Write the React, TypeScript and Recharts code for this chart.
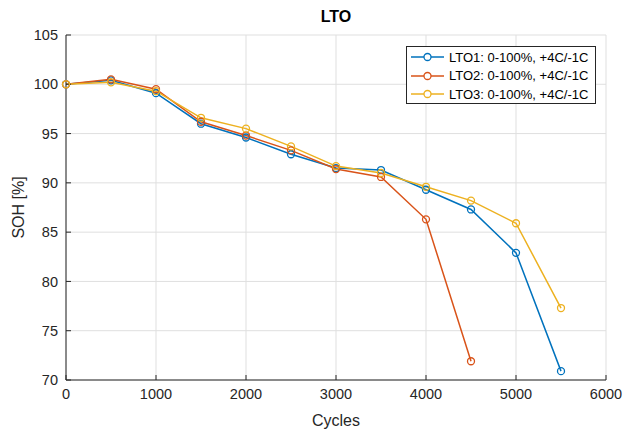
import { LineChart, Line, XAxis, YAxis, CartesianGrid, Legend } from "recharts";

const cycles = [0, 500, 1000, 1500, 2000, 2500, 3000, 3500, 4000, 4500, 5000, 5500];
const lto1 = [100, 100.4, 99.1, 96.0, 94.6, 92.9, 91.5, 91.3, 89.3, 87.3, 82.9, 70.9];
const lto2 = [100, 100.5, 99.5, 96.2, 94.8, 93.3, 91.4, 90.6, 86.3, 71.9];
const lto3 = [100, 100.2, 99.3, 96.6, 95.5, 93.7, 91.7, 91.0, 89.6, 88.2, 85.9, 77.3];
const xTicks = [0, 1000, 2000, 3000, 4000, 5000, 6000];
const yTicks = [70, 75, 80, 85, 90, 95, 100, 105];

const series = [
  { key: "lto1", name: "LTO1: 0-100%, +4C/-1C", color: "#0072BD" },
  { key: "lto2", name: "LTO2: 0-100%, +4C/-1C", color: "#D95319" },
  { key: "lto3", name: "LTO3: 0-100%, +4C/-1C", color: "#EDB120" },
];

const data = cycles.map((c, i) => ({ cycles: c, lto1: lto1[i], lto2: lto2[i], lto3: lto3[i] }));

const font = "'Liberation Sans', Arial, Helvetica, sans-serif";
const axisColor = "#262626";

function LegendBox() {
  return (
    <div
      style={{
        border: "1px solid #262626",
        background: "#fff",
        width: 190,
        height: 58,
        boxSizing: "border-box",
        paddingTop: 1,
        fontFamily: font,
        fontSize: 13,
        color: "#000",
        textAlign: "left",
      }}
    >
      {series.map((s) => (
        <div key={s.key} style={{ display: "flex", alignItems: "center", height: 18.6 }}>
          <svg width={38} height={12} style={{ marginLeft: 3 }}>
            <line x1={1} y1={6} x2={34} y2={6} stroke={s.color} strokeWidth={1.5} />
            <circle cx={17.5} cy={6} r={3.5} fill="#fff" stroke={s.color} strokeWidth={1.3} />
          </svg>
          <span style={{ marginLeft: 1 }}>{s.name}</span>
        </div>
      ))}
    </div>
  );
}

export default function App() {
  return (
    <div style={{ position: "fixed", left: 0, top: 0, width: 628, height: 429, background: "#fff" }}>
      <div
        style={{
          position: "absolute",
          left: 66,
          width: 540,
          top: 8,
          textAlign: "center",
          fontFamily: font,
          fontWeight: "bold",
          fontSize: 16,
          color: "#000",
        }}
      >
        LTO
      </div>
      <LineChart
        width={628}
        height={429}
        data={data}
        margin={{ top: 35, right: 22, bottom: 0, left: 0 }}
        style={{ fontFamily: font }}
      >
        <CartesianGrid stroke="#dfdfdf" strokeWidth={1} />
        <XAxis
          dataKey="cycles"
          type="number"
          domain={[0, 6000]}
          ticks={xTicks}
          height={49}
          stroke={axisColor}
          tickSize={-5}
          tickMargin={14}
          tick={{ fill: axisColor, fontSize: 14.5 }}
          label={{ value: "Cycles", position: "insideBottom", offset: 3, fill: axisColor, fontSize: 16 }}
        />
        <YAxis
          type="number"
          domain={[70, 105]}
          ticks={yTicks}
          width={66}
          stroke={axisColor}
          tickSize={-5}
          tickMargin={13}
          tick={{ fill: axisColor, fontSize: 14.5 }}
          label={{
            value: "SOH [%]",
            angle: -90,
            position: "insideLeft",
            offset: 18,
            fill: axisColor,
            fontSize: 16,
            style: { textAnchor: "middle" },
          }}
        />
        <Legend
          layout="horizontal"
          verticalAlign="middle"
          align="center"
          wrapperStyle={{ left: 406, top: 46, width: 190, height: 58 }}
          content={() => <LegendBox />}
        />
        {series.map((s) => (
          <Line
            key={s.key}
            dataKey={s.key}
            name={s.name}
            type="linear"
            stroke={s.color}
            strokeWidth={1.5}
            dot={{ r: 3.5, fill: "none", stroke: s.color, strokeWidth: 1.3 }}
            isAnimationActive={false}
          />
        ))}
      </LineChart>
    </div>
  );
}
